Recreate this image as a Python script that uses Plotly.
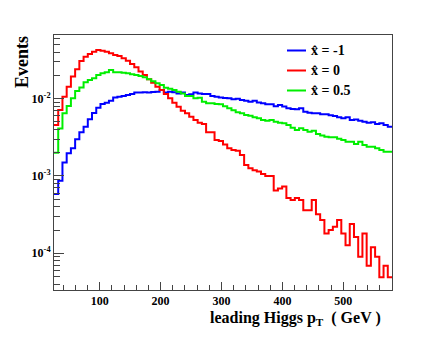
import numpy as np
import plotly.graph_objects as go

# histogram binning (80 bins, leading Higgs pT in GeV)
n_bins = 80
pt_lo, pt_hi = 25.0, 580.0

# normalised event fractions per bin
xhat_m1 = [5.85e-4, 8.7e-4, 1.5e-3, 1.97e-3, 2.28e-3, 2.98e-3, 3.67e-3, 4.35e-3, 5.42e-3, 6.53e-3,
           7.65e-3, 8.54e-3, 8.88e-3, 9.42e-3, 1.04e-2, 1.06e-2, 1.08e-2, 1.12e-2, 1.15e-2, 1.2e-2,
           1.2e-2, 1.21e-2, 1.2e-2, 1.22e-2, 1.23e-2, 1.30e-2, 1.2e-2, 1.23e-2, 1.21e-2, 1.17e-2,
           1.2e-2, 1.12e-2, 1.14e-2, 1.2e-2, 1.17e-2, 1.15e-2, 1.15e-2, 1.08e-2, 1.06e-2, 1.04e-2,
           1.02e-2, 1.01e-2, 9.8e-3, 1.0e-2, 9.6e-3, 9.4e-3, 9.1e-3, 9.4e-3, 8.9e-3, 8.7e-3,
           8.46e-3, 8.5e-3, 8.0e-3, 8.3e-3, 7.9e-3, 7.5e-3, 7.35e-3, 7.3e-3, 7.5e-3, 6.8e-3,
           6.6e-3, 6.47e-3, 6.47e-3, 6.3e-3, 6.28e-3, 6.1e-3, 5.97e-3, 5.74e-3, 5.57e-3, 5.74e-3,
           5.3e-3, 5.4e-3, 5.2e-3, 5.04e-3, 4.9e-3, 4.97e-3, 4.7e-3, 4.8e-3, 4.57e-3, 4.35e-3]

xhat_0 = [4.57e-3, 7.14e-3, 1.06e-2, 1.43e-2, 1.93e-2, 2.40e-2, 3.08e-2, 3.49e-2, 3.79e-2, 4.06e-2,
          4.27e-2, 4.18e-2, 4.06e-2, 3.87e-2, 3.67e-2, 3.57e-2, 3.33e-2, 3.10e-2, 2.81e-2, 2.55e-2,
          2.24e-2, 2.03e-2, 1.78e-2, 1.61e-2, 1.43e-2, 1.30e-2, 1.15e-2, 1.01e-2, 8.88e-3, 7.88e-3,
          7.0e-3, 6.47e-3, 5.85e-3, 5.3e-3, 4.9e-3, 4.7e-3, 3.67e-3, 3.67e-3, 2.92e-3, 2.84e-3,
          2.55e-3, 2.28e-3, 2.17e-3, 2.12e-3, 1.87e-3, 1.39e-3, 1.26e-3, 1.19e-3, 1.14e-3, 1.06e-3,
          1.0e-3, 1.0e-3, 6.5e-4, 6.9e-4, 7.3e-4, 5.2e-4, 4.9e-4, 5.2e-4, 4.9e-4, 3.6e-4,
          3.6e-4, 4.9e-4, 3.2e-4, 2.7e-4, 1.8e-4, 2.0e-4, 2.2e-4, 2.7e-4, 1.8e-4, 1.27e-4,
          2.4e-4, 1.63e-4, 9.0e-5, 1.8e-4, 6.9e-5, 1.2e-4, 9.0e-5, 4.9e-5, 6.9e-5, 4.9e-5]

xhat_05 = [2.0e-3, 4.1e-3, 6.5e-3, 8.05e-3, 1.01e-2, 1.26e-2, 1.40e-2, 1.63e-2, 1.75e-2, 1.84e-2,
           2.03e-2, 2.13e-2, 2.2e-2, 2.35e-2, 2.2e-2, 2.2e-2, 2.17e-2, 2.13e-2, 2.07e-2, 2.03e-2,
           1.97e-2, 1.89e-2, 1.78e-2, 1.68e-2, 1.58e-2, 1.50e-2, 1.39e-2, 1.34e-2, 1.30e-2, 1.23e-2,
           1.17e-2, 1.08e-2, 1.08e-2, 1.01e-2, 1.03e-2, 9.1e-3, 8.7e-3, 8.7e-3, 8.55e-3, 8.5e-3,
           8.0e-3, 7.5e-3, 7.1e-3, 6.66e-3, 6.47e-3, 6.15e-3, 6.0e-3, 5.74e-3, 5.57e-3, 5.3e-3,
           5.2e-3, 5.3e-3, 5.04e-3, 4.9e-3, 4.8e-3, 4.57e-3, 4.2e-3, 3.93e-3, 4.14e-3, 3.93e-3,
           3.74e-3, 3.86e-3, 3.5e-3, 3.33e-3, 3.22e-3, 3.16e-3, 3.16e-3, 3.04e-3, 2.92e-3, 2.78e-3,
           2.78e-3, 2.59e-3, 2.78e-3, 2.51e-3, 2.39e-3, 2.39e-3, 2.28e-3, 2.17e-3, 2.06e-3, 2.06e-3]

series = [
    ("x\u0302 = -1", xhat_m1, "#0000ff"),
    ("x\u0302 = 0", xhat_0, "#ff0000"),
    ("x\u0302 = 0.5", xhat_05, "#00ee00"),
]

x_ticks = [100, 200, 300, 400, 500]
y_ticks = [1e-4, 1e-3, 1e-2]
y_ticktext = ["10<sup>-4</sup>", "10<sup>-3</sup>", "10<sup>-2</sup>"]
y_minor = [m * 10.0 ** e for e in range(-5, -1) for m in range(2, 10)]

edges = np.linspace(pt_lo, pt_hi, n_bins + 1)

FONT = "Liberation Serif"
AX = "#444444"

fig = go.Figure()
for name, vals, color in series:
    fig.add_trace(go.Scatter(
        x=edges, y=list(vals) + [vals[-1]],
        mode="lines", name=name,
        line=dict(color=color, width=2, shape="hv"),
        showlegend=False,
    ))

# page body adds an 8px offset; plot area in page pixels: x 54..392, y 35..290
def px(x):
    return (x - 54) / 338.0

def py(y):
    return (290 - y) / 255.0

annotations = [
    dict(text="<b>Events</b>", xref="paper", yref="paper", x=px(22), y=py(62),
         textangle=-90, showarrow=False, font=dict(family=FONT, size=18, color="black"),
         xanchor="center", yanchor="middle"),
    dict(text="<b>leading Higgs p<sub>T</sub>  ( GeV )</b>", xref="paper", yref="paper",
         x=px(383), y=py(318), showarrow=False, font=dict(family=FONT, size=16, color="black"),
         xanchor="right", yanchor="middle"),
]
shapes = []
for i, (name, vals, color) in enumerate(series):
    ly = 50.5 + 20 * i
    shapes.append(dict(type="line", xref="paper", yref="paper",
                       x0=px(287), x1=px(306), y0=py(ly), y1=py(ly),
                       line=dict(color=color, width=2)))
    annotations.append(dict(text="<b>" + name + "</b>", xref="paper", yref="paper",
                            x=px(309), y=py(ly), showarrow=False, xanchor="left",
                            yanchor="middle", font=dict(family=FONT, size=14, color="black")))

fig.update_layout(
    width=428, height=346,
    margin=dict(l=46, r=44, t=27, b=64),
    paper_bgcolor="white", plot_bgcolor="white",
    annotations=annotations, shapes=shapes,
    xaxis=dict(
        range=[pt_lo, pt_hi], showgrid=False, zeroline=False,
        showline=True, linecolor=AX, linewidth=1, mirror=True,
        ticks="inside", ticklen=8, tickcolor=AX, tickwidth=1,
        tickmode="array", tickvals=x_ticks,
        tickfont=dict(family=FONT, size=12, color="black", weight="bold"),
        minor=dict(ticks="inside", ticklen=5, tickcolor=AX, dtick=20, tick0=0, showgrid=False),
    ),
    yaxis=dict(
        type="log", range=[-4.475, -1.176], showgrid=False, zeroline=False,
        showline=True, linecolor=AX, linewidth=1, mirror=True,
        ticks="inside", ticklen=10, tickcolor=AX, tickwidth=1,
        tickmode="array", tickvals=y_ticks, ticktext=y_ticktext,
        tickfont=dict(family=FONT, size=12, color="black", weight="bold"),
        minor=dict(ticks="inside", ticklen=6, tickcolor=AX, tickmode="array",
                   tickvals=y_minor, showgrid=False),
    ),
)

fig.write_html("out.html")
